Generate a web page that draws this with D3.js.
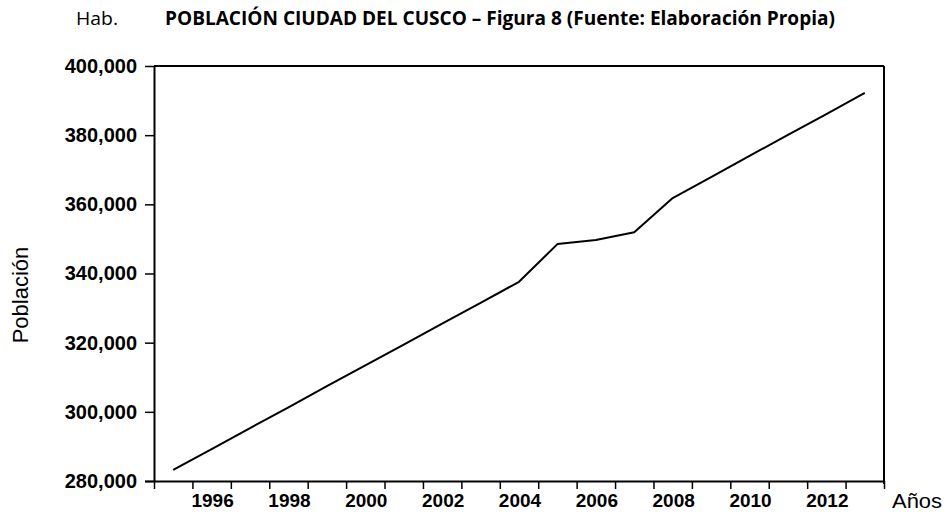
<!DOCTYPE html>
<html><head><meta charset="utf-8">
<script src="https://cdn.jsdelivr.net/npm/d3@7"></script>
<style>body{margin:0;background:#fff}svg{display:block}</style>
</head><body>
<svg id="c" width="944" height="516"></svg>
<script>
const years = [1995,1996,1997,1998,1999,2000,2001,2002,2003,2004,2005,2006,2007,2008,2009,2010,2011,2012,2013];
const population = [283200,289200,295300,301300,307400,313400,319400,325500,331500,337600,348500,349700,351900,361800,367900,374000,380100,386100,392200];
const yTicks = [280000,300000,320000,340000,360000,380000,400000];
const xLabelYears = [1996,1998,2000,2002,2004,2006,2008,2010,2012];
const titleText = "POBLACIÓN CIUDAD DEL CUSCO – Figura 8 (Fuente: Elaboración Propia)";
const unitText = "Hab.";
const yTitle = "Población";
const xTitle = "Años";

const svg = d3.select("#c");
const L = 154, R = 884, T = 66, B = 481;
const x = d3.scaleLinear().domain([1994.5, 2013.5]).range([L, R]);
const y = d3.scaleLinear().domain([280000, 400000]).range([B, T]);
const numFont = "Liberation Sans, Arial, sans-serif";

// frame
svg.append("line").attr("x1",L).attr("x2",R).attr("y1",T).attr("y2",T).attr("stroke","#000").attr("stroke-width",2);
svg.append("line").attr("x1",R).attr("x2",R).attr("y1",T).attr("y2",B+3).attr("stroke","#000").attr("stroke-width",2);

// y axis
const yAxis = d3.axisLeft(y).tickValues(yTicks).tickSize(9).tickPadding(8).tickFormat(d3.format(",")).tickSizeOuter(0);
const gy = svg.append("g").attr("transform",`translate(${L},0)`).call(yAxis);
gy.select(".domain").attr("stroke-width",2);
gy.selectAll(".tick line").attr("stroke-width",1.5);
gy.selectAll("text").attr("font-family",numFont).attr("font-weight","bold").attr("font-size",20).attr("fill","#000");

// x axis: ticks at year boundaries
const tickVals = d3.range(1994.5, 2013.6, 1);
const xAxis = d3.axisBottom(x).tickValues(tickVals).tickSize(8).tickFormat("").tickSizeOuter(0);
const gx = svg.append("g").attr("transform",`translate(0,${B})`).call(xAxis);
gx.select(".domain").attr("stroke-width",2).attr("d", `M${L-9},0.5H${R+1}`);
gx.selectAll(".tick line").attr("stroke-width",1.5);
gx.selectAll(".xl").data(xLabelYears).enter().append("text")
  .attr("x", d => x(d) + 1).attr("y", 26)
  .attr("text-anchor","middle")
  .attr("font-family",numFont)
  .attr("font-weight","bold").attr("font-size",19).attr("fill","#000")
  .text(d => d);

// line
const line = d3.line().x((d,i) => x(years[i])).y(d => y(d));
svg.append("path").datum(population).attr("d", line).attr("fill","none").attr("stroke","#000").attr("stroke-width",2).attr("stroke-linejoin","round");

// titles
svg.append("text").attr("x",76).attr("y",25).attr("font-family","Open Sans, sans-serif").attr("font-size",19).attr("fill","#000").attr("textLength",42).attr("lengthAdjust","spacingAndGlyphs").text(unitText);
svg.append("text").attr("x",165).attr("y",25).attr("font-family","Open Sans, sans-serif").attr("font-weight","bold").attr("font-size",19).attr("fill","#000").attr("textLength",670).attr("lengthAdjust","spacingAndGlyphs").text(titleText);
svg.append("text").attr("transform","translate(28,295) rotate(-90)").attr("text-anchor","middle").attr("font-family",numFont).attr("font-size",22).attr("fill","#000").text(yTitle);
svg.append("text").attr("x",892).attr("y",508).attr("font-family",numFont).attr("font-size",21).attr("fill","#000").attr("textLength",50).attr("lengthAdjust","spacingAndGlyphs").text(xTitle);
</script>
</body></html>
